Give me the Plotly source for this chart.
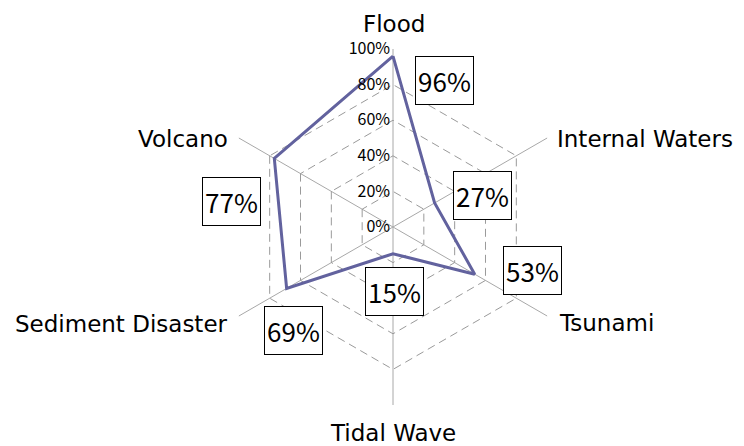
import plotly.graph_objects as go

# Hazard categories and the share of each (percent)
categories = ["Flood", "Internal Waters", "Tsunami", "Tidal Wave", "Sediment Disaster", "Volcano"]
values = [96, 27, 53, 15, 69, 77]
radial_ticks = [0, 20, 40, 60, 80, 100]

W, H = 744, 446
LABEL_FONT = "DejaVu Sans"
NUM_FONT = "Noto Sans CJK JP"

# Pixel anchors (left/top origin) for category names and value boxes
label_pos = [
    (394, 24, "center", "middle"),
    (556, 139, "left", "middle"),
    (558, 323, "left", "middle"),
    (393, 433, "center", "middle"),
    (229, 324, "right", "middle"),
    (229, 139, "right", "middle"),
]
box_pos = [(444, 81), (482, 195), (532, 270), (394, 291), (293, 330), (231, 201)]

def px(x, y):
    return x / W, 1 - y / H

fig = go.Figure()
fig.add_trace(go.Scatterpolar(
    r=values + values[:1],
    theta=categories + categories[:1],
    mode="lines",
    line=dict(color="#62629e", width=3),
    hoverinfo="skip",
    showlegend=False,
))

annotations = []
for name, (x, y, xa, ya) in zip(categories, label_pos):
    ax, ay = px(x, y)
    annotations.append(dict(
        x=ax, y=ay, xref="paper", yref="paper", text=name, showarrow=False,
        xanchor=xa, yanchor=ya, borderpad=0,
        font=dict(family=LABEL_FONT, size=23, color="black"),
    ))
for v, (x, y) in zip(values, box_pos):
    ax, ay = px(x, y)
    annotations.append(dict(
        x=ax, y=ay, xref="paper", yref="paper", text=f"{v}%", showarrow=False,
        xanchor="center", yanchor="middle", width=55, height=45,
        font=dict(family=NUM_FONT, size=26, color="black"),
        bordercolor="black", borderwidth=1, borderpad=1, bgcolor="white",
    ))

cx, cy, R = 393, 227, 178
fig.update_layout(
    width=W, height=H,
    margin=dict(l=0, r=0, t=0, b=0),
    paper_bgcolor="white",
    plot_bgcolor="white",
    annotations=annotations,
    polar=dict(
        domain=dict(x=[(cx - R) / W, (cx + R) / W], y=[1 - (cy + R) / H, 1 - (cy - R) / H]),
        gridshape="linear",
        bgcolor="white",
        radialaxis=dict(
            range=[0, 100],
            tickvals=radial_ticks,
            ticktext=[f"{t}%" for t in radial_ticks],
            angle=90,
            side="counterclockwise",
            tickangle=90,
            showline=False,
            ticks="",
            gridcolor="#9a9a9a",
            griddash="8px,5px",
            gridwidth=1,
            tickfont=dict(family=NUM_FONT, size=16, color="black"),
        ),
        angularaxis=dict(
            direction="clockwise",
            rotation=90,
            showticklabels=False,
            ticks="",
            showline=False,
            gridcolor="#a8a8a8",
            gridwidth=1,
        ),
    ),
)

fig.write_html("out.html")
